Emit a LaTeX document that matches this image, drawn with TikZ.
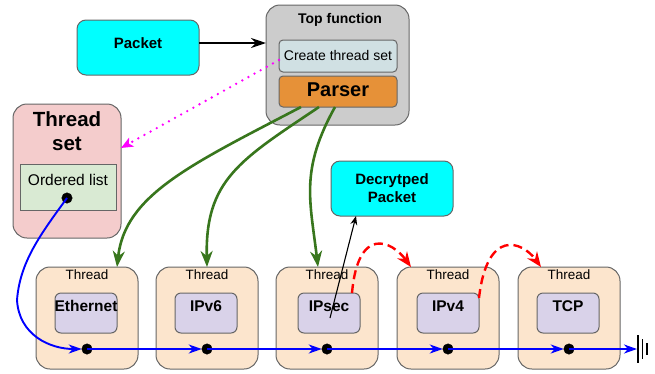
\documentclass[tikz,border=0pt]{standalone}
\usepackage{fontspec}
\setmainfont{Liberation Sans}
\usetikzlibrary{arrows.meta}
\definecolor{edgegray}{HTML}{666666}
\definecolor{pktcyan}{HTML}{00FFFF}
\definecolor{topgray}{HTML}{CCCCCC}
\definecolor{createblue}{HTML}{D0E0E3}
\definecolor{parserorange}{HTML}{E69138}
\definecolor{setpink}{HTML}{F4CCCC}
\definecolor{listgreen}{HTML}{D9EAD3}
\definecolor{threadpeach}{HTML}{FCE5CD}
\definecolor{innerlilac}{HTML}{D9D2E9}
\definecolor{callgreen}{HTML}{38761D}
\definecolor{setmagenta}{HTML}{FF00FF}
\tikzset{
  shapebox/.style={draw=edgegray, line width=1pt, inner sep=0pt, outer sep=0pt},
  fsz/.style={font=\fontsize{#1}{#1}\selectfont},
  bfsz/.style={font=\fontsize{#1}{#1}\selectfont\bfseries},
  threadbox/.style={shapebox, fill=threadpeach, rounded corners=14pt, minimum width=102pt, minimum height=102pt},
  innerbox/.style={shapebox, fill=innerlilac, rounded corners=6pt, minimum width=62pt, minimum height=40pt},
  listdot/.style={circle, fill=black, draw=black, minimum size=10.5pt, inner sep=0pt, outer sep=0pt},
  callarrow/.style={draw=callgreen, line width=2.6pt, -{Stealth[length=16pt,width=12pt,inset=5pt]}},
  chainarrow/.style={draw=blue, line width=1.9pt, -{Stealth[length=13pt,width=9pt,inset=4pt]}},
  nextarrow/.style={draw=red, line width=2.4pt, dash pattern=on 9pt off 5pt, -{Stealth[length=15pt,width=12pt,inset=5pt]}},
}
\begin{document}
\begin{tikzpicture}[x=1pt,y=-1pt]
\useasboundingbox (0,0) rectangle (655,373);

% incoming packet
\node[shapebox, fill=pktcyan, rounded corners=9pt, minimum width=122pt, minimum height=55pt] (packet) at (138,47.5) {};
\node[bfsz=15] (packetlbl) at (138,43) {Packet};

% top-level function with its two steps
\node[shapebox, fill=topgray, rounded corners=14pt, minimum width=143pt, minimum height=120pt] (topf) at (337.5,65) {};
\node[bfsz=14] (topflbl) at (340,20) {Top function};
\node[shapebox, fill=createblue, rounded corners=4pt, minimum width=118pt, minimum height=32pt] (create) at (338,56) {};
\node[fsz=14] (createlbl) at (338,55) {Create thread set};
\node[shapebox, fill=parserorange, rounded corners=4pt, minimum width=118pt, minimum height=31pt] (parser) at (338,91.5) {};
\node[bfsz=20] (parserlbl) at (338,90) {Parser};

% thread set holding the ordered list
\node[shapebox, fill=setpink, rounded corners=14pt, minimum width=108pt, minimum height=134pt] (tset) at (67,171) {};
\node[font=\fontsize{20.5}{24}\selectfont\bfseries, align=center] (tsetlbl) at (67,131) {Thread\\set};
\node[shapebox, fill=listgreen, minimum width=96pt, minimum height=46pt] (olist) at (68,187) {};
\node[fsz=15.5] (olistlbl) at (68,180) {Ordered list};
\node[listdot] (odot) at (67,198) {};

% decrypted output
\node[shapebox, fill=pktcyan, rounded corners=9pt, minimum width=122pt, minimum height=55pt] (decr) at (392,188.5) {};
\node[font=\fontsize{15}{18}\selectfont\bfseries, align=center] (decrlbl) at (392,188) {Decrytped\\Packet};

% protocol threads
\foreach \i/\cx/\ix/\name in {1/87/86/Ethernet, 2/207/206/IPv6, 3/327/329/IPsec, 4/448/448/IPv4, 5/569/568/TCP}{
  \node[threadbox] (th\i) at (\cx,318) {};
  \node[fsz=13.5] (thlbl\i) at (\cx,275) {Thread};
  \node[innerbox] (in\i) at (\ix,313) {};
  \node[bfsz=15.5] (inlbl\i) at (\ix,306) {\name};
  \node[listdot] (d\i) at (\cx,349) {};
}

% packet handed to the top function
\draw[line width=2.2pt, -{Stealth[length=15pt,width=10pt,inset=5pt]}]
  ([yshift=4.5pt]packet.east) -- ([yshift=22pt]topf.west);

% thread set creation
\draw[draw=setmagenta, line width=2.6pt, dash pattern=on 0pt off 7pt, line cap=round,
      -{Stealth[length=12pt,width=10pt,inset=3pt]}]
  ([yshift=-4pt]create.west) -- ([yshift=23pt]tset.east);

% parser spawning threads
\draw[callarrow] ([xshift=-37pt]parser.south) .. controls (190,165) and (125,195) .. ([xshift=30pt]th1.north);
\draw[callarrow] ([xshift=-19pt]parser.south) .. controls (240,160) and (205,180) .. (th2.north);
\draw[callarrow] ([xshift=-3pt]parser.south) .. controls (300,170) and (310,200) .. ([xshift=-9pt]th3.north);

% IPsec produces the decrypted packet
\coordinate (ipsectap) at (330,318);
\draw[line width=1.1pt, -{Stealth[length=9pt,width=7pt,inset=3pt]}] (ipsectap) -- ([xshift=-36pt]decr.south);

% next-layer hand-offs
\draw[nextarrow] ([xshift=-8pt]in3.north east) .. controls (358,225) and (392,241) .. ([xshift=14pt]th4.north west);
\draw[nextarrow] ([yshift=-5pt]in4.north east) .. controls (487,228) and (522,241) .. ([xshift=23pt]th5.north west);

% ordered list chain
\draw[chainarrow] (odot.center) .. controls (40,235) and (20,262) .. (17,300)
  .. controls (19,335) and (50,349) .. (d1.west);
\draw[chainarrow] (d1.center) -- (d2.west);
\draw[chainarrow] (d2.center) -- (d3.west);
\draw[chainarrow] (d3.center) -- (d4.west);
\draw[chainarrow] (d4.center) -- (d5.west);
\coordinate (gnd) at (637,349);
\draw[chainarrow] (d5.center) -- (gnd);

% list terminator
\draw[line width=1.4pt] (638,335) -- (638,363);
\draw[line width=1.4pt] (642.5,339) -- (642.5,359);
\draw[line width=1.4pt] (647,343) -- (647,355);
\end{tikzpicture}
\end{document}
